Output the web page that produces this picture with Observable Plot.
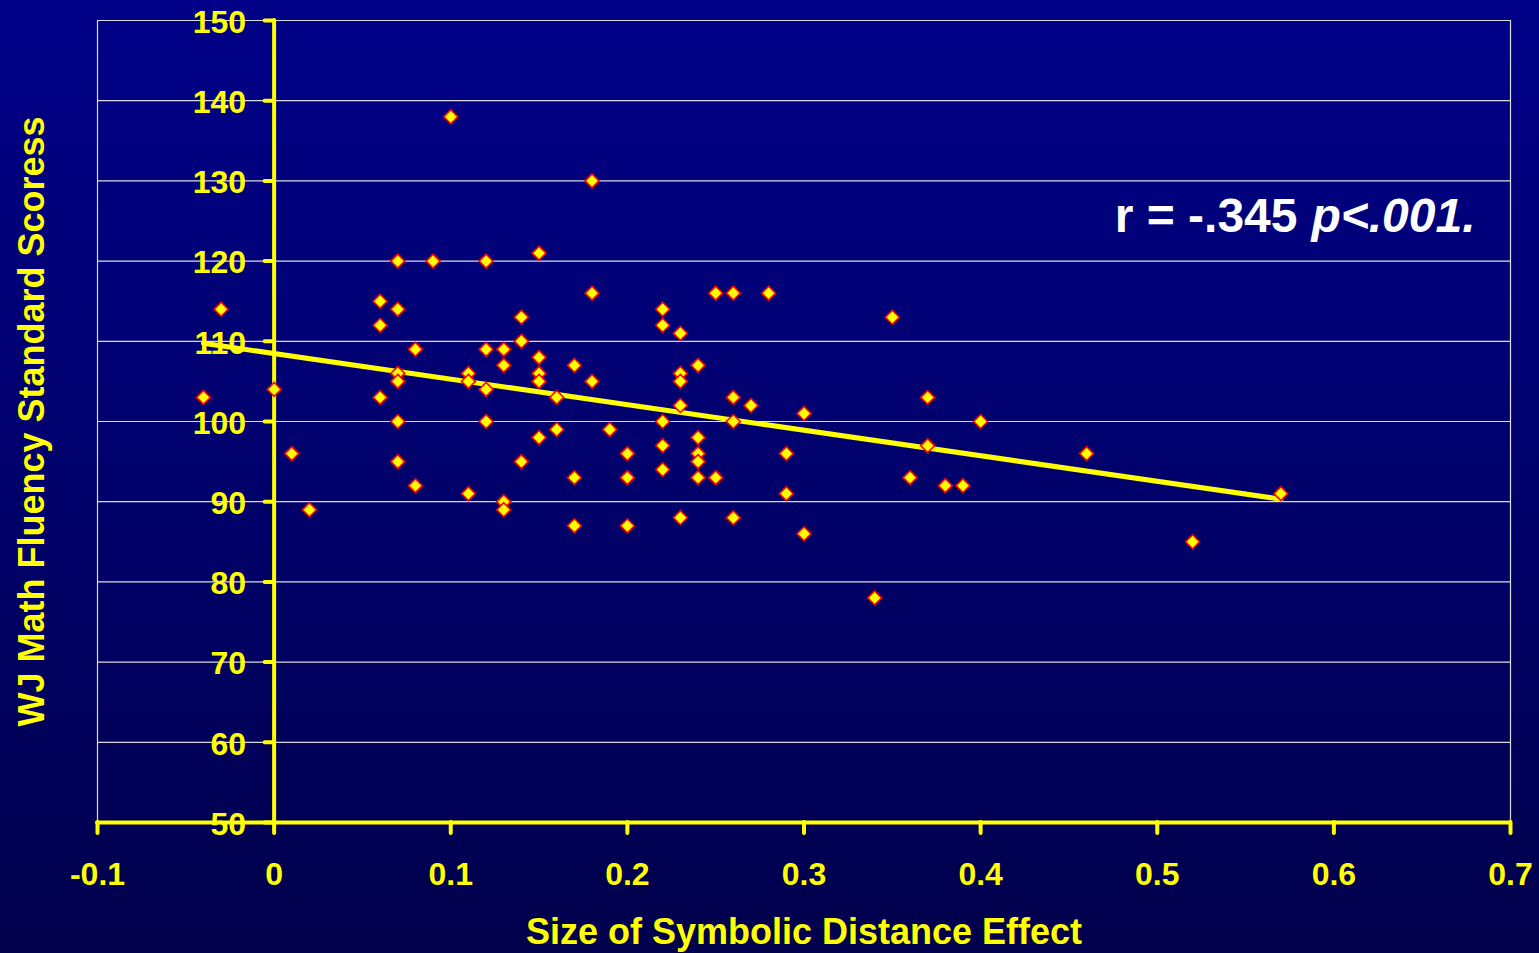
<!DOCTYPE html>
<html>
<head>
<meta charset="utf-8">
<script src="https://cdn.jsdelivr.net/npm/d3@7"></script>
<script src="https://cdn.jsdelivr.net/npm/@observablehq/plot@0.6"></script>
<style>
  html, body { margin: 0; padding: 0; }
  body { width: 1539px; height: 953px; overflow: hidden; background: linear-gradient(to bottom, #000088 0%, #00006c 50%, #00004c 100%); }
  #chart svg { display: block; }
</style>
</head>
<body>
<div id="chart"></div>
<script>
// Size of symbolic distance effect (x) and WJ Math Fluency standard score (y)
const sdeValues = [
  -0.04, -0.03, 0.00, 0.01, 0.02,
  0.06, 0.06, 0.06,
  0.07, 0.07, 0.07, 0.07, 0.07, 0.07,
  0.08, 0.08, 0.09, 0.10,
  0.11, 0.11, 0.11,
  0.12, 0.12, 0.12, 0.12,
  0.13, 0.13, 0.13, 0.13,
  0.14, 0.14, 0.14,
  0.15, 0.15, 0.15, 0.15, 0.15,
  0.16, 0.16,
  0.17, 0.17, 0.17,
  0.18, 0.18, 0.18,
  0.19,
  0.20, 0.20, 0.20,
  0.22, 0.22, 0.22, 0.22, 0.22,
  0.23, 0.23, 0.23, 0.23, 0.23,
  0.24, 0.24, 0.24, 0.24, 0.24,
  0.25, 0.25,
  0.26, 0.26, 0.26, 0.26,
  0.27, 0.28,
  0.29, 0.29,
  0.30, 0.30,
  0.34, 0.35, 0.36, 0.37, 0.37, 0.38, 0.39, 0.40,
  0.46, 0.52, 0.57
];
const mathScores = [
  103, 114, 104, 96, 89,
  115, 112, 103,
  120, 114, 106, 105, 100, 95,
  109, 92, 120, 138,
  106, 105, 91,
  120, 109, 104, 100,
  109, 107, 90, 89,
  113, 110, 95,
  121, 108, 106, 105, 98,
  103, 99,
  107, 93, 87,
  130, 116, 105,
  99,
  96, 93, 87,
  114, 112, 100, 97, 94,
  111, 106, 105, 102, 88,
  107, 98, 96, 95, 93,
  116, 93,
  116, 103, 100, 88,
  102, 116,
  96, 91,
  101, 86,
  78, 113, 93, 103, 97, 92, 92, 100,
  96, 85, 91
];
const xTicks = [-0.1, 0, 0.1, 0.2, 0.3, 0.4, 0.5, 0.6, 0.7];
const xTickLabels = ["-0.1", "0", "0.1", "0.2", "0.3", "0.4", "0.5", "0.6", "0.7"];
const yTicks = [50, 60, 70, 80, 90, 100, 110, 120, 130, 140, 150];
const gridLines = [60, 70, 80, 90, 100, 110, 120, 130, 140, 150];
const frameSides = [-0.1, 0.7];
const xTitle = "Size of Symbolic Distance Effect";
const yTitle = "WJ Math Fluency Standard Scoress";
const statText = "r = -.345";
const pText = "p<.001.";

const points = sdeValues.map((x, i) => ({x, y: mathScores[i]}));
const xTickData = xTicks.map((v, i) => ({v, label: xTickLabels[i]}));

const YEL = "#ffff00";
const FONT = "Liberation Sans, Arial, sans-serif";

const chart = Plot.plot({
  width: 1539,
  height: 953,
  marginLeft: 97,
  marginRight: 29,
  marginTop: 20,
  marginBottom: 131,
  x: {domain: [-0.1, 0.7], axis: null},
  y: {domain: [50, 150], axis: null},
  style: {background: "transparent", fontFamily: FONT, overflow: "visible"},
  marks: [
    Plot.ruleY(gridLines, {stroke: "#dcdcdc", strokeWidth: 1.2}),
    Plot.ruleX(frameSides, {y1: 50, y2: 150, stroke: "#dcdcdc", strokeWidth: 1.2}),
    Plot.linearRegressionY(points, {x: "x", y: "y", ci: 0, stroke: YEL, strokeWidth: 5}),
    // y axis line at x = 0 with ticks to the left
    Plot.ruleX([0], {y1: 50, y2: 150, stroke: YEL, strokeWidth: 4, strokeLinecap: "round"}),
    Plot.ruleY(yTicks, {x1: 0, x2: 0, insetLeft: -9, stroke: YEL, strokeWidth: 4, strokeLinecap: "round"}),
    // x axis line at y = 50 with ticks downwards
    Plot.ruleY([50], {x1: -0.1, x2: 0.7, stroke: YEL, strokeWidth: 4, strokeLinecap: "round"}),
    Plot.ruleX(xTicks, {y1: 50, y2: 50, insetBottom: -11, stroke: YEL, strokeWidth: 4, strokeLinecap: "round"}),
    Plot.dot(points, {x: "x", y: "y", symbol: "diamond2", r: 6.3, fill: YEL, stroke: "#ff0000", strokeWidth: 1.6}),
    Plot.text(yTicks, {x: 0, y: d => d, text: d => String(d), dx: -28, dy: 2, textAnchor: "end", fill: YEL, fontSize: 32, fontWeight: "bold"}),
    Plot.text(xTickData, {x: "v", y: 50, text: "label", dy: 52, fill: YEL, fontSize: 32, fontWeight: "bold"}),
    Plot.text([xTitle], {frameAnchor: "bottom", dy: 121, fill: YEL, fontSize: 36, fontWeight: "bold"}),
    Plot.text([yTitle], {frameAnchor: "left", textAnchor: "middle", rotate: -90, dx: -65, fill: YEL, fontSize: 36, fontWeight: "bold"}),
    Plot.text([statText], {frameAnchor: "top-right", textAnchor: "end", lineAnchor: "middle", dx: -213, dy: 196, fill: "white", fontSize: 48, fontWeight: "bold"}),
    Plot.text([pText], {frameAnchor: "top-right", textAnchor: "end", lineAnchor: "middle", dx: -35, dy: 196, fill: "white", fontSize: 48, fontWeight: "bold", fontStyle: "italic"})
  ]
});
document.getElementById("chart").append(chart);
</script>
</body>
</html>
